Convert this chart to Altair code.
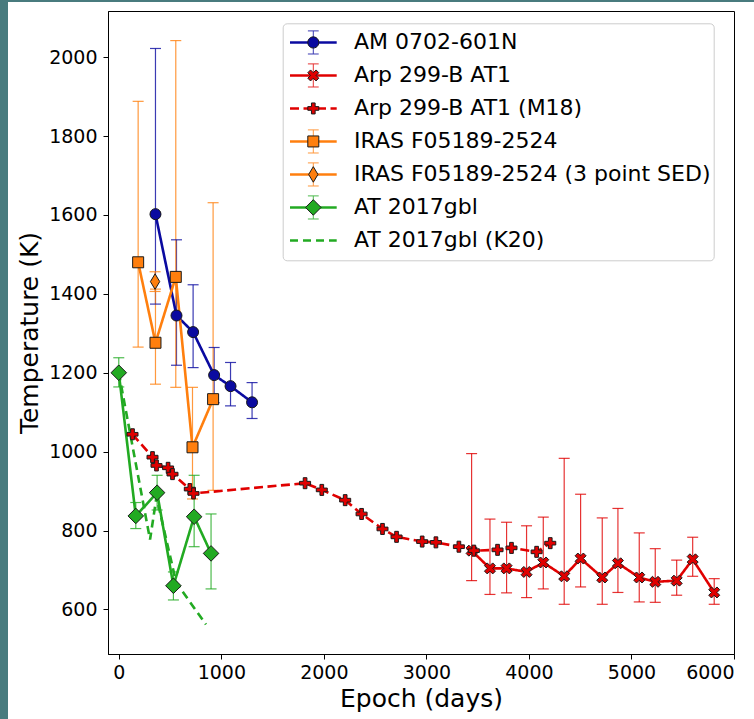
import altair as alt
import pandas as pd

# ---------------- data ----------------
SERIES = ["AM 0702-601N", "Arp 299-B AT1", "Arp 299-B AT1 (M18)", "IRAS F05189-2524",
          "IRAS F05189-2524 (3 point SED)", "AT 2017gbl", "AT 2017gbl (K20)"]

am_x = [358, 563, 725, 930, 1090, 1300]
am_t = [1602, 1345, 1303, 1194, 1166, 1125]
am_lo = [1374, 1219, 1213, 1124, 1116, 1084]
am_hi = [2022, 1537, 1423, 1264, 1226, 1175]

arp_x = [3441, 3620, 3782, 3977, 4140, 4344, 4504, 4715, 4868, 5076, 5232, 5441, 5597, 5807]
arp_t = [749, 704, 704, 695, 719, 684, 729, 681, 717, 681, 670, 673, 727, 643]
arp_lo = [673, 638, 642, 630, 652, 613, 657, 613, 643, 619, 618, 636, 684, 613]
arp_hi = [995, 829, 821, 812, 834, 983, 892, 832, 856, 794, 754, 725, 783, 678]

m18_x = [134, 329, 368, 481, 524, 693, 729, 1817, 1980, 2208, 2368, 2572, 2709, 2959,
         3093, 3317, 3463, 3694, 3830, 4075, 4208]
m18_t = [1044, 986, 965, 959, 943, 905, 894, 920, 903, 877, 842, 804, 784, 772,
         770, 759, 749, 751, 756, 746, 768]

iras_x = [189, 358, 556, 719, 920]
iras_t = [1480, 1276, 1443, 1011, 1133]
iras_lo = [1265, 1171, 1163, 880, 902]
iras_hi = [1888, 1412, 2042, 1163, 1631]

sed_x = [354]
sed_t = [1431]
sed_lo = [1406]
sed_hi = [1456]

gbl_x = [0, 166, 374, 533, 735, 900]
gbl_t = [1200, 837, 896, 660, 835, 742]
gbl_lo = [1164, 805, 852, 624, 759, 652]
gbl_hi = [1238, 871, 940, 695, 940, 842]

k20_x = [0, 305, 368, 560, 850]
k20_t = [1200, 777, 885, 668, 562]

x_ticks = [0, 1000, 2000, 3000, 4000, 5000, 6000]
y_ticks = [600, 800, 1000, 1200, 1400, 1600, 1800, 2000]

# ---------------- tables ----------------
def table(name, xs, ts, los=None, his=None):
    return pd.DataFrame({
        "series": [name] * len(xs),
        "epoch": xs,
        "temp": ts,
        "lo": los if los is not None else [None] * len(xs),
        "hi": his if his is not None else [None] * len(xs),
    })

pts = pd.concat([
    table(SERIES[0], am_x, am_t, am_lo, am_hi),
    table(SERIES[1], arp_x, arp_t, arp_lo, arp_hi),
    table(SERIES[2], m18_x, m18_t),
    table(SERIES[3], iras_x, iras_t, iras_lo, iras_hi),
    table(SERIES[4], sed_x, sed_t, sed_lo, sed_hi),
    table(SERIES[5], gbl_x, gbl_t, gbl_lo, gbl_hi),
    table(SERIES[6], k20_x, k20_t),
], ignore_index=True)
err = pts.dropna(subset=["lo"]).reset_index(drop=True)
mk = pts[pts["series"] != SERIES[6]].reset_index(drop=True)

# ---------------- styles ----------------
BLUE, RED, ORANGE, GREEN = "#0a0aa0", "#e00000", "#ff7f0e", "#22aa22"
COLORS = [BLUE, RED, RED, ORANGE, ORANGE, GREEN, GREEN]
DASHES = [[1, 0], [1, 0], [9, 4.5], [1, 0], [1, 0], [1, 0], [8, 5]]
FONT = "DejaVu Sans"
EDGE = "#1a1a1a"
U = 15.0  # px per path unit at size 900


def poly(vs, s, dx=0.0):
    return "M" + "L".join(f"{x * s + dx:.4f},{y * s:.4f}" for x, y in vs) + "Z"


def circ(r, dx=0.0):
    return (f"M{dx - r:.4f},0A{r:.4f},{r:.4f},0,1,1,{dx + r:.4f},0"
            f"A{r:.4f},{r:.4f},0,1,1,{dx - r:.4f},0Z")


MS = 11.0 / U  # marker size in units
X_V = [(-1, -2), (0, -1), (1, -2), (2, -1), (1, 0), (2, 1), (1, 2), (0, 1), (-1, 2), (-2, 1), (-1, 0), (-2, -1)]
P_V = [(-1, -3), (-1, -1), (-3, -1), (-3, 1), (-1, 1), (-1, 3), (1, 3), (1, 1), (3, 1), (3, -1), (1, -1), (1, -3)]
SQ_V = [(-0.5, -0.5), (0.5, -0.5), (0.5, 0.5), (-0.5, 0.5)]
D_V = [(-0.7071, 0), (0, -0.7071), (0.7071, 0), (0, 0.7071)]
d_V = [(-0.4243, 0), (0, -0.7071), (0.4243, 0), (0, 0.7071)]


def marker_paths(dx=0.0, prefix=""):
    return [
        prefix + circ(0.5 * MS, dx),
        prefix + poly(X_V, MS / 4, dx),
        prefix + poly(P_V, MS / 6, dx),
        prefix + poly(SQ_V, MS, dx),
        prefix + poly(d_V, MS, dx),
        prefix + poly(D_V, MS, dx),
        prefix + "M0,0",
    ]


# legend geometry (units relative to the legend symbol centre)
L0, L1, MC, RB = -0.813, 2.3, 0.74, 27.83
MC1 = MC + 1.0 / U          # symbols drawn with 1px strokes sit 1px further left
BOUND = f"M{L0},0M{RB},0"
LINE_SYM = BOUND + f"M{L0},0H{L1}"
EB = (f"M{MC1:.3f},-0.77V0.77M{MC1 - 0.36:.3f},-0.77H{MC1 + 0.36:.3f}"
      f"M{MC1 - 0.36:.3f},0.77H{MC1 + 0.36:.3f}")
ERR_SYMS = [EB, EB, "M0,0", EB, EB, EB, "M0,0"]

LEG = dict(orient="none", title=None, labelFont=FONT, labelFontSize=22, labelLimit=900,
           symbolSize=900, clipHeight=32.3, rowPadding=0, padding=3, labelOffset=35.3,
           legendX=174.7, legendY=12.3)
HIDDEN = dict(labelExpr="''", labelColor="black", labelOpacity=0)

leg_line = alt.Legend(symbolType=LINE_SYM, symbolStrokeWidth=2.6, strokeColor="#cccccc",
                      cornerRadius=4, labelColor="black", **LEG)
leg_err = alt.Legend(symbolStrokeWidth=1, symbolOpacity=0.8, **HIDDEN, **LEG)
leg_fill = alt.Legend(symbolStrokeWidth=1, symbolStrokeColor="transparent", symbolOpacity=1,
                      **HIDDEN, **LEG)
leg_edge = alt.Legend(symbolStrokeWidth=1, symbolOpacity=1, **HIDDEN, **LEG)

xsc = alt.Scale(domain=[-105, 6000], nice=False, zero=False)
ysc = alt.Scale(domain=[487, 2117], nice=False, zero=False)
xax = alt.Axis(values=x_ticks, format="d", title="Epoch (days)", labelPadding=4,
               titleY=52.7, titleBaseline="alphabetic")
yax = alt.Axis(values=y_ticks, format="d", title="Temperature (K)", labelPadding=6,
               titleX=-66, titleY=321.5, titleAngle=270, titleBaseline="bottom", titleAlign="center")
X = alt.X("epoch:Q", scale=xsc, axis=xax)


def Y(f):
    return alt.Y(f, scale=ysc, axis=yax)


def sc(rng):
    return alt.Scale(domain=SERIES, range=rng)


TEAL = "#487b7e"
one = pd.DataFrame({"a": [0]})
deco_l = alt.Chart(one).mark_rect(color=TEAL).encode(
    x=alt.value(-108), x2=alt.value(-100), y=alt.value(-11), y2=alt.value(708))
deco_t = alt.Chart(one).mark_rect(color=TEAL).encode(
    x=alt.value(-108), x2=alt.value(646), y=alt.value(-11), y2=alt.value(-9))

rules = alt.Chart(err).mark_rule(strokeWidth=1.2, opacity=0.8).encode(
    x=X, y=Y("lo:Q"), y2=alt.Y2("hi:Q"),
    stroke=alt.Stroke("series:N", scale=sc(COLORS), legend=None))

caps = alt.Chart(err).transform_fold(["lo", "hi"], as_=["k", "v"]).mark_tick(
    orient="horizontal", size=11, thickness=1.2, opacity=0.8).encode(
    x=X, y=Y("v:Q"), color=alt.Color("series:N", scale=sc(COLORS), legend=None))

lines = alt.Chart(pts).mark_line(strokeWidth=2.6).encode(
    x=X, y=Y("temp:Q"),
    stroke=alt.Stroke("series:N", scale=sc(COLORS), legend=leg_line),
    strokeDash=alt.StrokeDash("series:N", scale=sc(DASHES), legend=leg_line))

marks = alt.Chart(mk).mark_point(filled=True, size=900, stroke=EDGE, strokeWidth=1,
                                 opacity=1).encode(
    x=X, y=Y("temp:Q"),
    shape=alt.Shape("series:N", scale=sc(marker_paths()), legend=None),
    fill=alt.Fill("series:N", scale=sc(COLORS), legend=None))

# legend-only layers (no data drawn): error-bar glyphs, marker fills, marker edges
g_err = alt.Chart(pts).transform_filter("false").mark_point(size=900, strokeWidth=1).encode(
    shape=alt.Shape("series:N", scale=sc(ERR_SYMS), legend=leg_err),
    stroke=alt.Stroke("series:N", scale=sc(COLORS), legend=leg_err))

g_fill = alt.Chart(pts).transform_filter("false").mark_point(
    filled=True, size=900, opacity=1, stroke="transparent", strokeWidth=1).encode(
    shape=alt.Shape("series:N", scale=sc(marker_paths(MC1)), legend=leg_fill),
    fill=alt.Fill("series:N", scale=sc(COLORS), legend=leg_fill))

g_edge = alt.Chart(pts).transform_filter("false").mark_point(
    filled=False, size=900, strokeWidth=1, opacity=1).encode(
    shape=alt.Shape("series:N", scale=sc(marker_paths(MC1)), legend=leg_edge),
    stroke=alt.Stroke("series:N", scale=sc([EDGE] * 7), legend=leg_edge))

chart = alt.layer(deco_l, deco_t, rules, caps, lines, marks, g_err, g_fill, g_edge).resolve_scale(
    stroke="independent", strokeDash="independent", shape="independent",
    fill="independent", color="independent"
).properties(
    width=626, height=643,
    autosize=alt.AutoSizeParams(type="none"),
    padding={"left": 108, "top": 11, "right": 20, "bottom": 65},
).configure_view(stroke="black", strokeWidth=1).configure_axis(
    grid=False, domainColor="black", tickColor="black", labelColor="black",
    titleColor="black", labelFont=FONT, titleFont=FONT, titleFontWeight="normal",
    labelFontSize=19, titleFontSize=25, tickSize=5, tickWidth=1, domainWidth=1
)

chart.save("out.html", embed_options={"renderer": "svg", "actions": False})
